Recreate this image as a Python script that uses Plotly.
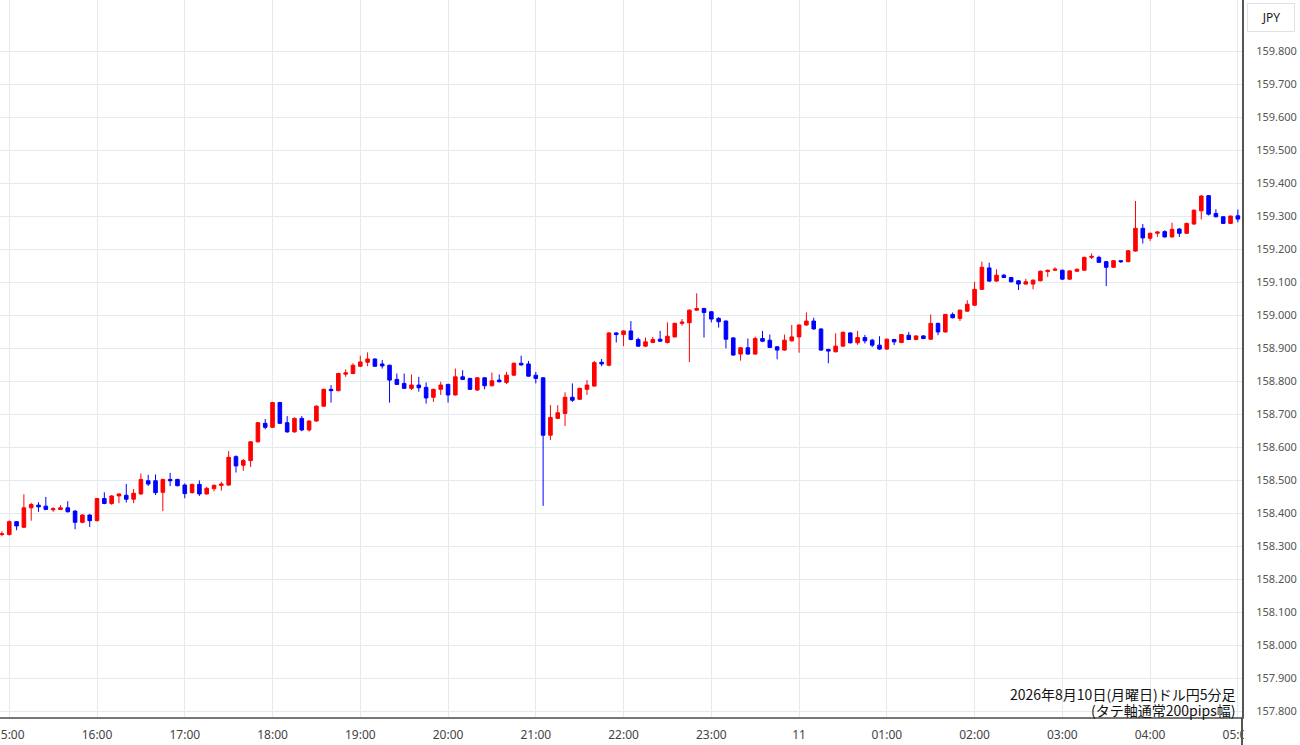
import pandas as pd
import plotly.graph_objects as go

# ドル円 5分足  2026-08-10 14:55 ～ 08-11 05:00
start = "2026-08-10 14:55"

opens = [
    158.335, 158.335, 158.374, 158.357, 158.416, 158.424, 158.421, 158.410, 158.411, 158.416,
    158.406, 158.372, 158.394, 158.377, 158.444, 158.429, 158.452, 158.454, 158.442, 158.458,
    158.498, 158.498, 158.463, 158.502, 158.502, 158.485, 158.462, 158.487, 158.458, 158.474,
    158.484, 158.485, 158.571, 158.545, 158.559, 158.616, 158.672, 158.660, 158.735, 158.674,
    158.646, 158.687, 158.652, 158.679, 158.724, 158.775, 158.771, 158.821, 158.823, 158.845,
    158.857, 158.867, 158.852, 158.848, 158.805, 158.793, 158.778, 158.788, 158.781, 158.751,
    158.775, 158.790, 158.758, 158.813, 158.808, 158.773, 158.810, 158.786, 158.803, 158.796,
    158.818, 158.854, 158.852, 158.818, 158.810, 158.636, 158.687, 158.702, 158.751, 158.745,
    158.775, 158.785, 158.857, 158.848, 158.946, 158.941, 158.952, 158.926, 158.906, 158.917,
    158.927, 158.917, 158.934, 158.975, 158.977, 159.015, 159.020, 159.010, 158.990, 158.982,
    158.931, 158.882, 158.901, 158.882, 158.929, 158.924, 158.904, 158.894, 158.922, 158.934,
    158.970, 158.982, 158.958, 158.896, 158.889, 158.906, 158.946, 158.916, 158.932, 158.924,
    158.909, 158.897, 158.926, 158.917, 158.939, 158.926, 158.937, 158.927, 158.975, 158.949,
    159.002, 158.990, 159.012, 159.030, 159.078, 159.143, 159.103, 159.121, 159.114, 159.104,
    159.094, 159.094, 159.104, 159.132, 159.136, 159.136, 159.109, 159.133, 159.136, 159.175,
    159.175, 159.162, 159.145, 159.165, 159.162, 159.194, 159.263, 159.233, 159.248, 159.253,
    159.237, 159.261, 159.248, 159.276, 159.316, 159.362, 159.308, 159.298, 159.278, 159.301,
]
highs = [
    158.345, 158.378, 158.376, 158.457, 158.431, 158.433, 158.449, 158.418, 158.424, 158.436,
    158.409, 158.397, 158.397, 158.446, 158.463, 158.454, 158.459, 158.488, 158.473, 158.520,
    158.516, 158.517, 158.504, 158.522, 158.504, 158.490, 158.489, 158.499, 158.480, 158.487,
    158.495, 158.588, 158.575, 158.564, 158.618, 158.676, 158.685, 158.737, 158.737, 158.694,
    158.690, 158.694, 158.681, 158.727, 158.777, 158.788, 158.825, 158.835, 158.854, 158.877,
    158.887, 158.869, 158.864, 158.850, 158.823, 158.823, 158.820, 158.813, 158.796, 158.777,
    158.798, 158.792, 158.838, 158.833, 158.810, 158.812, 158.812, 158.826, 158.820, 158.828,
    158.856, 158.877, 158.861, 158.828, 158.812, 158.727, 158.727, 158.766, 158.793, 158.780,
    158.803, 158.861, 158.867, 158.948, 158.948, 158.954, 158.982, 158.932, 158.932, 158.934,
    158.952, 158.978, 158.977, 158.988, 159.017, 159.066, 159.022, 159.012, 158.994, 158.984,
    158.933, 158.903, 158.929, 158.935, 158.952, 158.941, 158.906, 158.941, 158.970, 158.972,
    159.008, 158.992, 158.960, 158.898, 158.945, 158.950, 158.948, 158.952, 158.940, 158.928,
    158.936, 158.929, 158.928, 158.943, 158.949, 158.939, 158.939, 159.002, 158.977, 159.004,
    159.008, 159.017, 159.045, 159.101, 159.162, 159.159, 159.139, 159.125, 159.116, 159.106,
    159.110, 159.108, 159.135, 159.138, 159.145, 159.138, 159.136, 159.141, 159.177, 159.187,
    159.180, 159.164, 159.167, 159.167, 159.197, 159.346, 159.276, 159.250, 159.254, 159.257,
    159.280, 159.263, 159.280, 159.320, 159.363, 159.364, 159.321, 159.300, 159.302, 159.320,
]
lows = [
    158.330, 158.332, 158.348, 158.355, 158.377, 158.404, 158.409, 158.404, 158.409, 158.402,
    158.351, 158.369, 158.358, 158.375, 158.427, 158.425, 158.430, 158.432, 158.430, 158.456,
    158.482, 158.455, 158.406, 158.482, 158.481, 158.445, 158.459, 158.452, 158.456, 158.466,
    158.468, 158.483, 158.523, 158.528, 158.540, 158.614, 158.654, 158.658, 158.670, 158.644,
    158.644, 158.648, 158.647, 158.677, 158.722, 158.735, 158.769, 158.813, 158.821, 158.843,
    158.845, 158.843, 158.838, 158.735, 158.788, 158.776, 158.773, 158.768, 158.732, 158.737,
    158.758, 158.735, 158.756, 158.803, 158.773, 158.770, 158.775, 158.784, 158.796, 158.791,
    158.816, 158.847, 158.813, 158.793, 158.422, 158.621, 158.685, 158.664, 158.737, 158.743,
    158.758, 158.783, 158.845, 158.845, 158.917, 158.906, 158.924, 158.904, 158.904, 158.915,
    158.919, 158.914, 158.932, 158.968, 158.858, 159.013, 158.932, 158.978, 158.962, 158.899,
    158.877, 158.862, 158.880, 158.880, 158.918, 158.900, 158.866, 158.892, 158.920, 158.886,
    158.968, 158.956, 158.892, 158.854, 158.887, 158.904, 158.914, 158.910, 158.914, 158.903,
    158.895, 158.895, 158.909, 158.915, 158.924, 158.924, 158.927, 158.925, 158.939, 158.947,
    158.990, 158.982, 159.010, 159.028, 159.076, 159.101, 159.101, 159.112, 159.099, 159.076,
    159.093, 159.078, 159.102, 159.116, 159.134, 159.107, 159.107, 159.131, 159.134, 159.170,
    159.158, 159.088, 159.143, 159.158, 159.160, 159.192, 159.217, 159.225, 159.237, 159.235,
    159.235, 159.237, 159.246, 159.274, 159.290, 159.302, 159.296, 159.276, 159.276, 159.281,
]
closes = [
    158.337, 158.374, 158.361, 158.416, 158.426, 158.419, 158.411, 158.413, 158.416, 158.404,
    158.372, 158.394, 158.377, 158.444, 158.429, 158.452, 158.458, 158.442, 158.460, 158.502,
    158.488, 158.462, 158.502, 158.498, 158.483, 158.459, 158.487, 158.458, 158.475, 158.484,
    158.488, 158.569, 158.543, 158.559, 158.616, 158.674, 158.660, 158.735, 158.672, 158.646,
    158.687, 158.652, 158.679, 158.724, 158.775, 158.771, 158.823, 158.825, 158.848, 158.858,
    158.867, 158.845, 158.846, 158.803, 158.790, 158.778, 158.788, 158.780, 158.749, 158.775,
    158.788, 158.758, 158.813, 158.805, 158.775, 158.810, 158.786, 158.801, 158.798, 158.818,
    158.854, 158.849, 158.815, 158.808, 158.636, 158.690, 158.704, 158.751, 158.742, 158.778,
    158.788, 158.856, 158.852, 158.946, 158.941, 158.952, 158.926, 158.906, 158.919, 158.926,
    158.921, 158.936, 158.975, 158.979, 159.015, 159.020, 159.008, 158.988, 158.980, 158.927,
    158.879, 158.901, 158.882, 158.929, 158.921, 158.902, 158.894, 158.924, 158.934, 158.970,
    158.982, 158.958, 158.894, 158.891, 158.906, 158.948, 158.916, 158.932, 158.922, 158.909,
    158.897, 158.927, 158.919, 158.941, 158.926, 158.937, 158.929, 158.975, 158.949, 159.002,
    158.992, 159.015, 159.033, 159.078, 159.145, 159.103, 159.121, 159.114, 159.101, 159.094,
    159.101, 159.106, 159.133, 159.136, 159.139, 159.109, 159.134, 159.139, 159.175, 159.178,
    159.160, 159.145, 159.165, 159.162, 159.195, 159.263, 159.234, 159.248, 159.252, 159.237,
    159.260, 159.248, 159.278, 159.318, 159.361, 159.306, 159.298, 159.278, 159.300, 159.291,
]

times = pd.date_range(start, periods=len(opens), freq="5min")

hour_ticks = pd.date_range("2026-08-10 15:00", "2026-08-11 05:00", freq="1h")
hour_labels = ["11" if t.hour == 0 else t.strftime("%H:%M") for t in hour_ticks]

price_ticks = [157.8 + 0.1 * i for i in range(21)]
price_labels = [f"{p:.3f}" for p in price_ticks]

title_lines = ["2026年8月10日(月曜日)ドル円5分足", "(タテ軸通常200pips幅)"]

grid_col = "#e4ebf0"

fig = go.Figure()
fig.add_trace(go.Candlestick(
    x=times, open=opens, high=highs, low=lows, close=closes,
    increasing=dict(line=dict(color="#ff0000", width=1), fillcolor="#ff0000"),
    decreasing=dict(line=dict(color="#0000ff", width=1), fillcolor="#0000ff"),
    whiskerwidth=0,
    hoverinfo="skip",
    showlegend=False,
))

fig.update_layout(
    width=1300, height=745,
    margin=dict(l=0, r=58, t=0, b=28),
    paper_bgcolor="white", plot_bgcolor="white",
    font=dict(family="Noto Sans, Open Sans, sans-serif", size=12, color="#444444"),
    xaxis=dict(
        type="date",
        range=["2026-08-10 14:53:40", "2026-08-11 05:02:50"],
        tickvals=hour_ticks, ticktext=hour_labels,
        showgrid=True, gridcolor=grid_col, gridwidth=1,
        showline=True, linecolor="#777777", linewidth=2,
        ticks="", ticklabelstandoff=6,
        ticklabeloverflow="allow",
        automargin=False,
        rangeslider=dict(visible=False),
        fixedrange=True,
    ),
    yaxis=dict(
        side="right",
        range=[157.782, 159.955],
        tickvals=price_ticks, ticktext=price_labels,
        showgrid=True, gridcolor=grid_col, gridwidth=1,
        showline=True, linecolor="#555555", linewidth=2,
        ticks="", ticklabelstandoff=10,
        tickfont=dict(size=11, color="#555555"),
        automargin=False,
        fixedrange=True,
    ),
    shapes=[
        # 右軸の線を下まで伸ばす
        dict(type="line", xref="paper", yref="paper", x0=1, x1=1, y0=-0.04, y1=0,
             line=dict(color="#555555", width=2), layer="above"),
        # 05:00 ラベルの右半分を隠す
        dict(type="rect", xref="paper", yref="paper", x0=1.0015, x1=1.05, y0=-0.04, y1=-0.003,
             fillcolor="white", line=dict(width=0), layer="above"),
    ],
    annotations=[
        dict(text="JPY", xref="paper", yref="paper", x=1.0233, y=0.996,
             xanchor="center", yanchor="top", showarrow=False,
             font=dict(size=12, color="#222222"),
             bordercolor="#e2e2e2", borderwidth=1, borderpad=5, bgcolor="white",
             width=36),
        dict(text=title_lines[0], xref="paper", yref="paper",
             x=0.9965, y=0.0321, xanchor="right", yanchor="middle", showarrow=False,
             font=dict(family="Noto Sans CJK JP, Noto Sans, sans-serif", size=14, color="#111111")),
        dict(text=title_lines[1], xref="paper", yref="paper",
             x=0.9965, y=0.0098, xanchor="right", yanchor="middle", showarrow=False,
             font=dict(family="Noto Sans CJK JP, Noto Sans, sans-serif", size=14, color="#111111")),
    ],
    hovermode=False,
)

# ページ余白をなくす
fig.write_html("out.html", config={"displayModeBar": False},
               post_script="document.body.style.margin='0';")
